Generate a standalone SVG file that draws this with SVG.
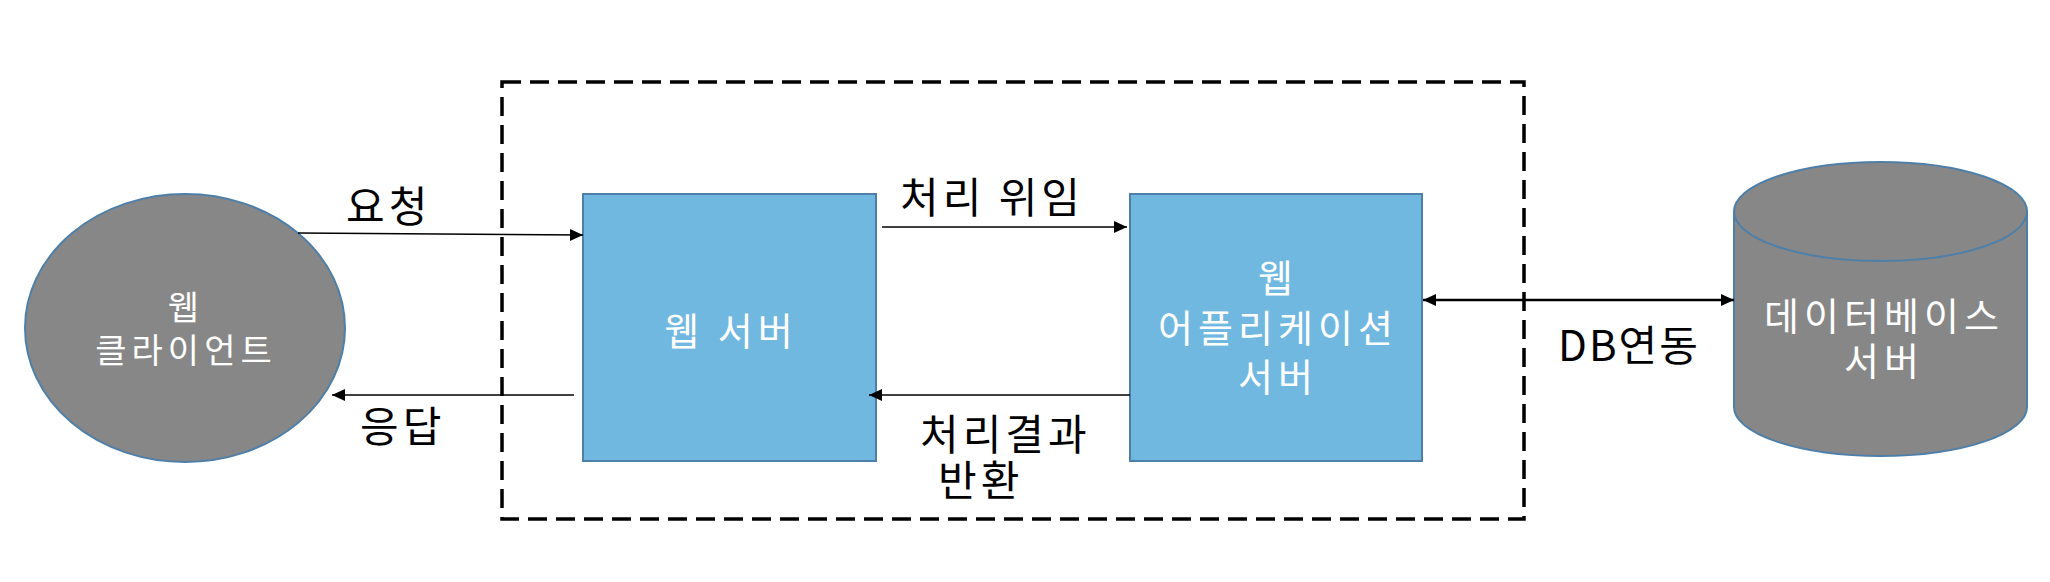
<svg xmlns="http://www.w3.org/2000/svg" width="2050" height="582" viewBox="0 0 2050 582">
<style>
.lbl{font-family:"Noto Sans CJK KR","Noto Sans",sans-serif;fill:#000;font-size:42px;letter-spacing:4px;}
.ntx{font-family:"Noto Sans CJK KR","Noto Sans",sans-serif;fill:#fff;text-anchor:middle;letter-spacing:5px;}
.blue{fill:#71B8E1;stroke:#4E7FA8;stroke-width:2;}
.gray{fill:#878787;stroke:#4E7FA8;stroke-width:2;}
.thin{stroke:#000;stroke-width:1.4;fill:none;}
</style>
<defs>
<marker id="ah" markerUnits="userSpaceOnUse" markerWidth="14" markerHeight="14" viewBox="0 0 14 14" refX="13" refY="7" orient="auto">
<path d="M0,1 L13,7 L0,13 Z" fill="#000"/>
</marker>
<marker id="ahs" markerUnits="userSpaceOnUse" markerWidth="14" markerHeight="14" viewBox="0 0 14 14" refX="13" refY="7" orient="auto-start-reverse">
<path d="M0,1 L13,7 L0,13 Z" fill="#000"/>
</marker>
</defs>
<rect width="2050" height="582" fill="#fff"/>
<g id="container">
<rect x="502" y="82" width="1022" height="437" fill="none" stroke="#000" stroke-width="3.5" stroke-dasharray="19 9"/>
</g>
<g id="web-client">
<ellipse cx="185" cy="328" rx="160" ry="134" class="gray"/>
<text class="ntx" font-size="34"><tspan x="186" y="320">웹</tspan><tspan x="186" y="363">클라이언트</tspan></text>
</g>
<g id="web-server">
<rect x="583" y="194" width="293" height="267" class="blue"/>
<text class="ntx" x="731" y="345" font-size="38">웹 서버</text>
</g>
<g id="was">
<rect x="1130" y="194" width="292" height="267" class="blue"/>
<text class="ntx" font-size="38"><tspan x="1278" y="292">웹</tspan><tspan x="1278" y="342">어플리케이션</tspan><tspan x="1278" y="391">서버</tspan></text>
</g>
<g id="db">
<path d="M1734,211.5 A146.5,49.5 0 0 1 2027,211.5 L2027,407 A146.5,49 0 0 1 1734,407 Z" class="gray"/>
<path d="M1734,211.5 A146.5,49.5 0 0 0 2027,211.5" fill="none" stroke="#4E7FA8" stroke-width="2"/>
<text class="ntx" font-size="38"><tspan x="1884" y="330">데이터베이스</tspan><tspan x="1884" y="375">서버</tspan></text>
</g>
<g id="connectors">
<line x1="298" y1="233" x2="583" y2="235" class="thin" marker-end="url(#ah)"/>
<line x1="574" y1="395" x2="332" y2="395" class="thin" marker-end="url(#ah)"/>
<line x1="882" y1="227" x2="1127" y2="227" class="thin" marker-end="url(#ah)"/>
<line x1="1130" y1="395" x2="869" y2="395" class="thin" marker-end="url(#ah)"/>
<line x1="1423" y1="300" x2="1734" y2="300" stroke="#000" stroke-width="2.6" marker-start="url(#ahs)" marker-end="url(#ah)"/>
</g>
<g id="labels">
<text class="lbl" x="346" y="222">요청</text>
<text class="lbl" x="360" y="442">응답</text>
<text class="lbl" x="900" y="213">처리 위임</text>
<text class="lbl"><tspan x="920" y="450">처리결과</tspan><tspan x="938" y="496">반환</tspan></text>
<text class="lbl" x="1558" y="361" style="letter-spacing:2px">DB연동</text>
</g>
</svg>
